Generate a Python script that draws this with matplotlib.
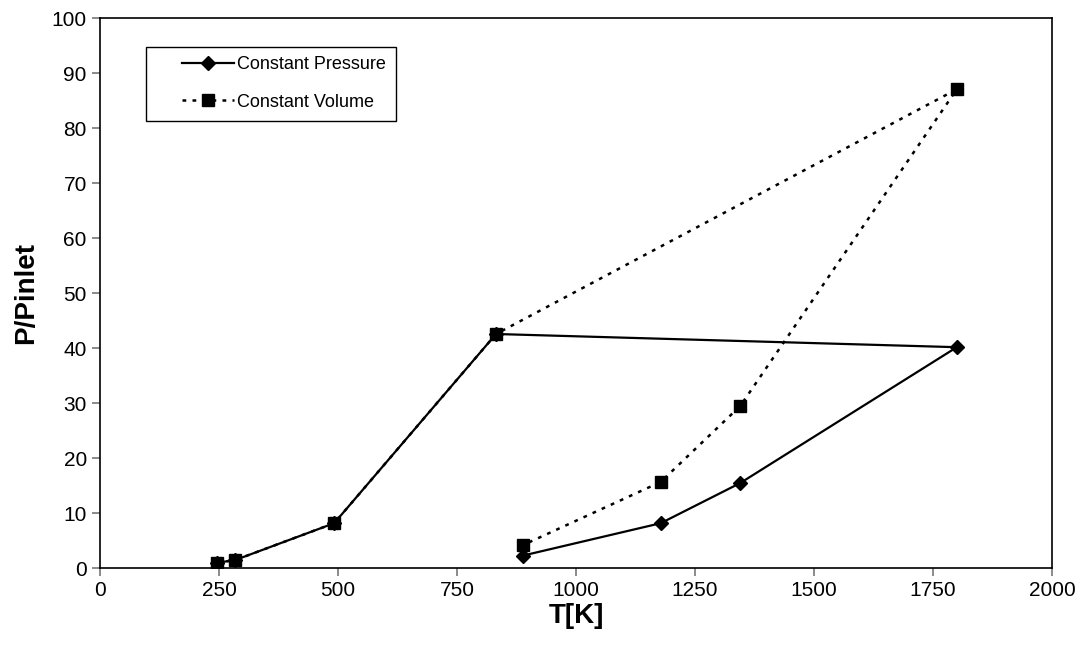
import matplotlib
matplotlib.use("Agg")
import matplotlib.pyplot as plt
from matplotlib.patches import Rectangle

plt.rcParams['font.family'] = ['Liberation Sans', 'DejaVu Sans']

# cycle points
temp_k = [245, 284, 492, 832, 1800, 1345, 1178, 888]
p_const_pressure = [1.0, 1.5, 8.2, 42.6, 40.2, 15.5, 8.2, 2.3]
p_const_volume = [1.0, 1.5, 8.2, 42.6, 87.1, 29.5, 15.7, 4.2]

W, H = 1086, 659
fig = plt.figure(figsize=(W / 100, H / 100), dpi=100)
ax = fig.add_axes([100 / W, 1 - 568.3 / H, 952 / W, 550 / H])

ax.plot(temp_k, p_const_pressure, color="k", lw=1.6, marker="D", markersize=7,
        label="Constant Pressure")
ax.plot(temp_k, p_const_volume, color="k", lw=1.8, linestyle=(0, (1.5, 2.5)),
        marker="s", markersize=8, label="Constant Volume")

ax.set_xlim(0, 2000)
ax.set_ylim(0, 100)
ax.set_xticks(range(0, 2001, 250))
ax.set_yticks(range(0, 101, 10))
ax.tick_params(direction="out", length=6, width=1.2, color="#777777",
               labelsize=15)
for s in ax.spines.values():
    s.set_linewidth(1.2)

ax.set_xlabel("T[K]", fontsize=20, fontweight="bold", labelpad=2)
ax.set_ylabel("P/Pinlet", fontsize=20, fontweight="bold", labelpad=9)

# legend box drawn by hand (Excel style, wide left margin)
box = Rectangle((146 / W, 1 - 121 / H), 250 / W, 74 / H, transform=fig.transFigure,
                facecolor="white", edgecolor="k", lw=1.0, zorder=5, clip_on=False)
ax.add_patch(box)
leg = ax.legend(loc="upper left", bbox_to_anchor=(182 / W, 1 - 56 / H),
                bbox_transform=fig.transFigure, fontsize=13, frameon=False,
                handlelength=2.9, borderpad=0, labelspacing=1.15,
                handletextpad=0.15, borderaxespad=0)
leg.set_zorder(6)

fig.savefig("out.png", dpi=100)
